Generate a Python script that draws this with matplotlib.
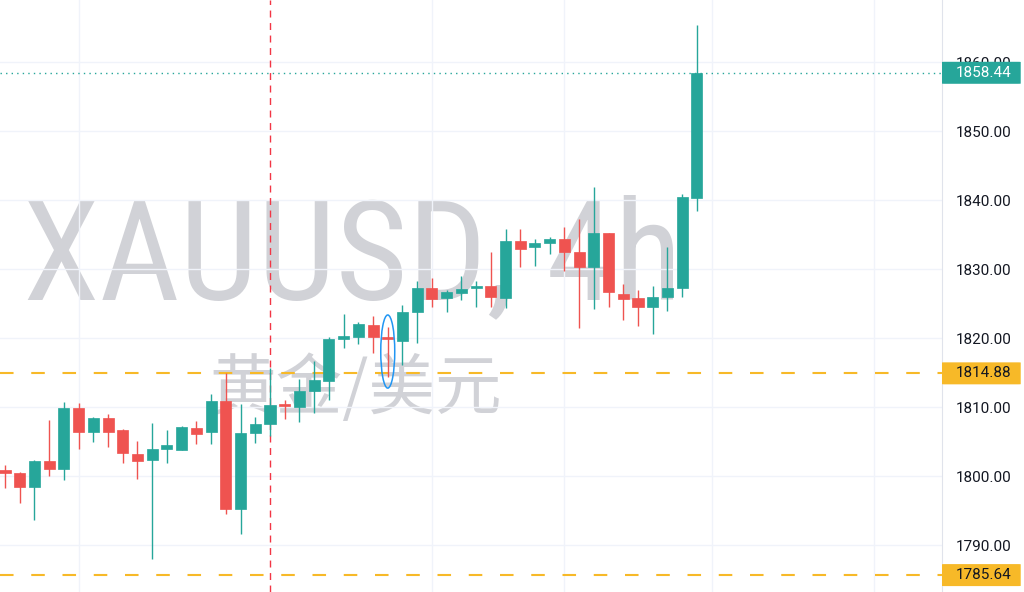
import numpy as np
import matplotlib
matplotlib.use("Agg")
import matplotlib.pyplot as plt
import matplotlib.transforms as mtransforms
from matplotlib.patches import Ellipse, FancyBboxPatch

# 4h candles, oldest first
opens = [1800.87, 1800.43, 1798.41, 1802.17, 1801.01, 1809.86, 1806.38, 1808.41, 1806.67, 1803.19,
         1802.32, 1803.91, 1803.77, 1806.96, 1806.38, 1810.87, 1795.22, 1806.23, 1807.54, 1810.43,
         1810.00, 1812.32, 1813.77, 1819.86, 1820.14, 1821.88, 1820.14, 1819.57, 1823.77, 1827.25,
         1825.80, 1826.52, 1827.25, 1827.54, 1825.80, 1834.06, 1833.19, 1833.77, 1834.35, 1832.46,
         1830.29, 1835.22, 1826.38, 1825.80, 1824.49, 1825.94, 1827.25, 1840.29]
highs = [1801.59, 1800.58, 1802.32, 1808.12, 1810.72, 1810.58, 1808.55, 1808.99, 1806.81, 1805.07,
         1807.68, 1806.67, 1807.25, 1807.97, 1811.88, 1814.93, 1810.43, 1808.55, 1815.65, 1811.01,
         1814.06, 1816.67, 1820.14, 1823.48, 1822.32, 1823.19, 1821.59, 1824.78, 1828.26, 1828.70,
         1826.96, 1828.99, 1828.26, 1832.46, 1835.80, 1835.80, 1834.35, 1834.64, 1836.09, 1837.25,
         1841.88, 1835.22, 1827.83, 1826.96, 1827.54, 1833.19, 1840.87, 1865.36]
lows = [1798.26, 1796.09, 1793.62, 1800.00, 1799.42, 1803.91, 1804.93, 1804.20, 1801.88, 1799.57,
        1787.97, 1801.88, 1803.77, 1804.64, 1804.64, 1794.49, 1791.59, 1804.78, 1805.80, 1808.26,
        1807.83, 1809.13, 1811.01, 1818.55, 1819.13, 1817.83, 1814.35, 1816.09, 1819.28, 1824.49,
        1823.77, 1825.51, 1824.49, 1824.49, 1824.35, 1830.29, 1830.43, 1832.17, 1829.71, 1821.45,
        1824.20, 1824.49, 1822.61, 1821.74, 1820.58, 1823.91, 1825.94, 1838.41]
closes = [1800.43, 1798.41, 1802.17, 1801.01, 1809.86, 1806.38, 1808.41, 1806.38, 1803.33, 1802.17,
          1803.91, 1804.49, 1807.10, 1806.09, 1810.87, 1795.22, 1806.23, 1807.54, 1810.29, 1810.14,
          1812.32, 1813.91, 1819.86, 1820.29, 1822.03, 1820.14, 1819.86, 1823.77, 1827.25, 1825.65,
          1826.67, 1827.10, 1827.54, 1825.94, 1834.06, 1832.90, 1833.77, 1834.35, 1832.46, 1830.29,
          1835.22, 1826.67, 1825.65, 1824.49, 1825.94, 1827.25, 1840.43, 1858.44]

price_levels = [1790, 1800, 1810, 1820, 1830, 1840, 1850, 1860]
time_grid = [5, 29, 38, 48, 59]     # day separators (candle index)
marker_bar = 18                     # red dashed vertical line
support_levels = [1814.88, 1785.64]
last_price = closes[-1]
circled_bar = 26                    # doji highlighted with blue ellipse

UP = "#26A69A"
DOWN = "#EF5350"
ORANGE = "#F7B928"
GRID = "#F0F3FA"

fig = plt.figure(figsize=(10.24, 5.92), dpi=100)
ax = fig.add_axes([0, 0, 942 / 1024, 1])
axr = fig.add_axes([942 / 1024, 0, 82 / 1024, 1])

ylo, yhi = 1783.19, 1868.99
ax.set_xlim(-0.34, 63.65)
ax.set_ylim(ylo, yhi)
axr.set_ylim(ylo, yhi)

# watermark
ax.text(0.374, 0.494, "XAUUSD, 4h", transform=ax.transAxes, ha="center", va="baseline",
        fontsize=100, color="#D1D2D7", zorder=0,
        family=["Roboto Condensed", "DejaVu Sans"])
ax.text(0.378, 0.341, "黄金/美元", transform=ax.transAxes, ha="center", va="center",
        fontsize=48, color="#D1D2D7", zorder=0,
        family=["Noto Sans CJK SC", "DejaVu Sans"])

# grid
ax.set_yticks(price_levels)
ax.set_xticks(time_grid)
ax.grid(True, color=GRID, lw=1, zorder=0.5)
ax.set_axisbelow(True)
ax.tick_params(length=0, labelbottom=False, labelleft=False)
for s in ax.spines.values():
    s.set_visible(False)

# candles
x = np.arange(len(opens))
o = np.array(opens)
c = np.array(closes)
cols = [UP if cc >= oo else DOWN for oo, cc in zip(o, c)]
ax.vlines(x, lows, highs, colors=cols, lw=1, zorder=3)
ax.bar(x, np.abs(c - o), bottom=np.minimum(o, c), width=0.75, color=cols,
       edgecolor=cols, lw=0.5, zorder=3)

# levels and markers
for lv in support_levels:
    ax.axhline(lv, color=ORANGE, lw=1.5, dashes=(6.5, 8.5), zorder=2)
ax.axhline(last_price, color=UP, lw=1, dashes=(1, 3), zorder=2)
ax.axvline(marker_bar, color="#F23645", lw=1, dashes=(5, 4), zorder=2.5)
ax.add_patch(Ellipse((circled_bar, 1818.04), 0.95, 10.6, fill=False,
                     ec="#2196F3", lw=1.1, zorder=4))

# price scale
axr.set_xlim(0, 1)
axr.set_xticks([])
axr.yaxis.tick_right()
axr.set_yticks(price_levels)
axr.set_yticklabels([f"{v:.2f}" for v in price_levels])
axr.tick_params(axis="y", length=0, pad=-49, labelsize=11, labelcolor="#131722")
for lab in axr.get_yticklabels():
    lab.set_horizontalalignment("left")
    lab.set_family("Roboto")
for name, s in axr.spines.items():
    s.set_visible(name == "left")
axr.spines["left"].set_color("#E0E3EB")

blend = mtransforms.blended_transform_factory(axr.transAxes, axr.transData)
box_h = 22 / 6.9
tags = [(last_price, UP, "white")] + [(lv, ORANGE, "#131722") for lv in support_levels]
for val, bg, fg in tags:
    axr.add_patch(FancyBboxPatch((0, val - box_h / 2), 0.96, box_h,
                                 boxstyle="round,pad=0,rounding_size=0.03",
                                 transform=blend, fc=bg, ec="none", zorder=5,
                                 mutation_aspect=1))
    axr.text(14 / 82, val, f"{val:.2f}", transform=blend, ha="left", va="center",
             fontsize=11, color=fg, family="Roboto", zorder=6)

fig.savefig("out.png", dpi=100)
